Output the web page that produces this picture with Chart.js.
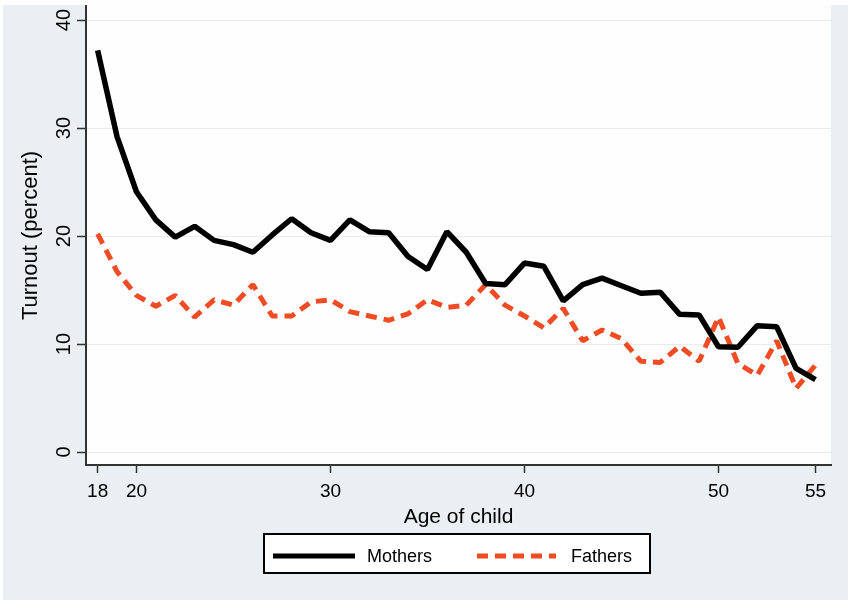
<!DOCTYPE html>
<html>
<head>
<meta charset="utf-8">
<script src="https://cdn.jsdelivr.net/npm/chart.js@4.4.1/dist/chart.umd.min.js"></script>
<style>
  html, body { margin: 0; padding: 0; background: #ffffff; }
  canvas { display: block; }
</style>
</head>
<body>
<canvas id="turnout-chart" width="848" height="602"></canvas>
<script>
// age of child, 18 to 55
const ages = [18, 19, 20, 21, 22, 23, 24, 25, 26, 27, 28, 29, 30, 31, 32, 33, 34, 35, 36,
    37, 38, 39, 40, 41, 42, 43, 44, 45, 46, 47, 48, 49, 50, 51, 52, 53, 54, 55];

const mothers = [37.2, 29.2, 24.1, 21.5, 19.9, 20.9, 19.6, 19.2, 18.5, 20.1, 21.6, 20.3, 19.6,
    21.5, 20.4, 20.3, 18.1, 16.9, 20.4, 18.5, 15.6, 15.5, 17.5, 17.2, 14.0, 15.5, 16.1, 15.4,
    14.7, 14.8, 12.75, 12.7, 9.75, 9.7, 11.7, 11.6, 7.75, 6.7];

const fathers = [20.2, 16.7, 14.5, 13.5, 14.5, 12.5, 14.1, 13.6, 15.5, 12.6, 12.6, 13.9, 14.1,
    13.0, 12.6, 12.2, 12.8, 14.1, 13.4, 13.6, 15.5, 13.6, 12.6, 11.5, 13.3, 10.3, 11.3, 10.5,
    8.4, 8.3, 9.8, 8.4, 12.5, 8.2, 7.1, 10.3, 5.9, 8.05];

const xTicks = [18, 20, 30, 40, 50, 55];
const yTicks = [0, 10, 20, 30, 40];

const bgColor = '#e9eff2';
const fatherColor = '#ef4c24';
const fontFamily = 'Arial, "Liberation Sans", sans-serif';

const backgroundPlugin = {
    id: 'background',
    beforeDraw(chart) {
        const ctx = chart.ctx;
        const area = chart.chartArea;
        ctx.save();
        ctx.fillStyle = '#ffffff';
        ctx.fillRect(0, 0, chart.width, chart.height);
        ctx.fillStyle = bgColor;
        ctx.fillRect(3, 5, chart.width - 3, chart.height - 7);
        ctx.fillStyle = '#fefefe';
        ctx.fillRect(area.left, area.top - 1, area.right - area.left, area.bottom - area.top + 1);
        ctx.restore();
    }
};

const legendBoxPlugin = {
    id: 'legendBox',
    afterDraw(chart) {
        const ctx = chart.ctx;
        ctx.save();
        ctx.fillStyle = '#ffffff';
        ctx.fillRect(264, 534, 386, 39);
        ctx.strokeStyle = '#000000';
        ctx.lineWidth = 2;
        ctx.strokeRect(264, 534, 386, 39);

        const midY = 556;
        ctx.lineWidth = 5;
        ctx.lineCap = 'butt';
        ctx.strokeStyle = '#000000';
        ctx.beginPath();
        ctx.moveTo(273, midY);
        ctx.lineTo(355, midY);
        ctx.stroke();

        ctx.strokeStyle = fatherColor;
        ctx.setLineDash([11, 7]);
        ctx.beginPath();
        ctx.moveTo(477, midY);
        ctx.lineTo(556, midY);
        ctx.stroke();
        ctx.setLineDash([]);

        ctx.fillStyle = '#000000';
        ctx.font = '18px ' + fontFamily;
        ctx.textBaseline = 'middle';
        ctx.textAlign = 'left';
        ctx.fillText('Mothers', 367, midY + 1);
        ctx.fillText('Fathers', 571, midY + 1);
        ctx.restore();
    }
};

const ctx = document.getElementById('turnout-chart').getContext('2d');
new Chart(ctx, {
    type: 'line',
    data: {
        datasets: [{
            label: 'Mothers',
            data: ages.map((a, i) => ({ x: a, y: mothers[i] })),
            borderColor: '#000000',
            borderWidth: 5.5,
            pointRadius: 0,
            tension: 0,
            borderJoinStyle: 'bevel'
        }, {
            label: 'Fathers',
            data: ages.map((a, i) => ({ x: a, y: fathers[i] })),
            borderColor: fatherColor,
            borderWidth: 5,
            borderDash: [11, 7],
            pointRadius: 0,
            tension: 0,
            borderJoinStyle: 'bevel'
        }]
    },
    options: {
        responsive: false,
        animation: false,
        layout: {
            padding: { left: 3, top: 6, right: 17, bottom: 0 }
        },
        plugins: {
            legend: { display: false },
            tooltip: { enabled: false }
        },
        scales: {
            x: {
                type: 'linear',
                min: 17.4,
                max: 55.8,
                afterBuildTicks: scale => {
                    scale.ticks = xTicks.map(v => ({ value: v }));
                },
                afterFit: scale => {
                    scale.height = 137;
                    scale.paddingLeft = 0;
                    scale.paddingRight = 0;
                },
                grid: {
                    drawOnChartArea: false,
                    drawTicks: true,
                    tickLength: 8,
                    tickColor: '#333333',
                    tickWidth: 1.5
                },
                border: { display: true, color: '#333333', width: 2 },
                ticks: {
                    color: '#000000',
                    padding: 7,
                    maxRotation: 0,
                    autoSkip: false,
                    font: { family: fontFamily, size: 19 }
                },
                title: {
                    display: true,
                    text: 'Age of child',
                    color: '#000000',
                    padding: { top: 4, bottom: 72 },
                    font: { family: fontFamily, size: 21 }
                }
            },
            y: {
                min: -1.2,
                max: 41.3,
                afterBuildTicks: scale => {
                    scale.ticks = yTicks.map(v => ({ value: v }));
                },
                afterFit: scale => {
                    scale.width = 83;
                    scale.paddingTop = 0;
                    scale.paddingBottom = 0;
                },
                grid: {
                    color: '#ebebeb',
                    lineWidth: 1,
                    drawTicks: true,
                    tickLength: 9,
                    tickColor: '#333333',
                    tickWidth: 1.5
                },
                border: { display: true, color: '#333333', width: 2 },
                ticks: {
                    color: '#000000',
                    padding: 1,
                    minRotation: 90,
                    maxRotation: 90,
                    crossAlign: 'center',
                    autoSkip: false,
                    font: { family: fontFamily, size: 20 }
                },
                title: {
                    display: true,
                    text: 'Turnout (percent)',
                    color: '#000000',
                    padding: { top: 15, bottom: 0 },
                    font: { family: fontFamily, size: 22 }
                }
            }
        }
    },
    plugins: [backgroundPlugin, legendBoxPlugin]
});
</script>
</body>
</html>
